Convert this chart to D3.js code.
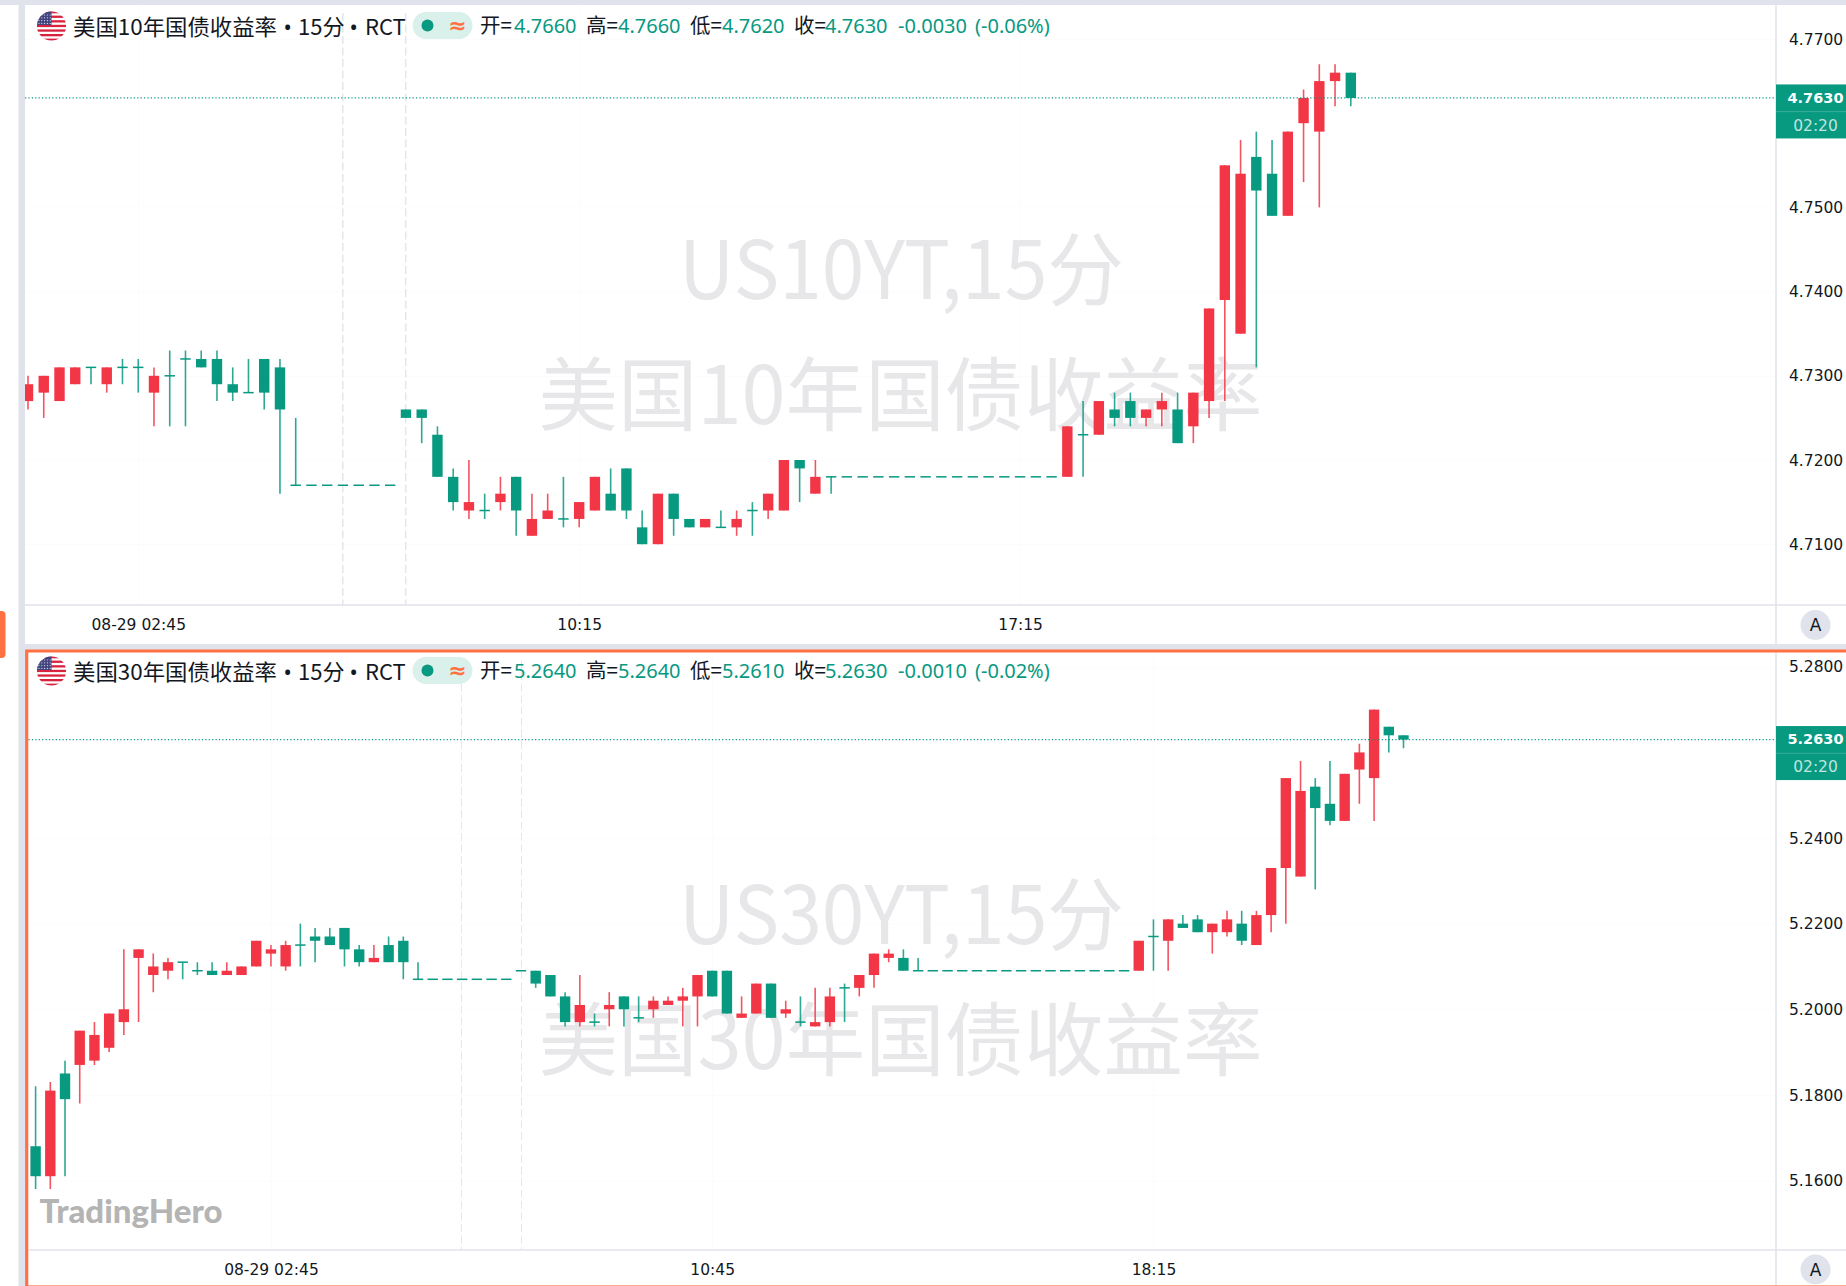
<!DOCTYPE html>
<html lang="zh">
<head>
<meta charset="UTF-8">
<title>US10YT / US30YT 15分</title>
<style>
  html, body { margin: 0; padding: 0; background: #fff; }
  svg { display: block; }
  .axis path { display: none; }
  .axis line { stroke: #fcfcfd; }
  .axis text { font: 15.5px "DejaVu Sans", sans-serif; fill: #131722; }
  .title { font: 22px "Noto Sans CJK SC", sans-serif; fill: #131722; }
  .dot { font: 22px "Noto Sans", sans-serif; fill: #131722; }
  .ohlc { font: 20px "Noto Sans", sans-serif; fill: #089981; }
  .ohlc-label { font: 20.5px "Noto Sans CJK SC", sans-serif; fill: #131722; }
  .wm { font: 80px "Noto Sans CJK SC", sans-serif; fill: #e7e7ea; text-anchor: middle; }
</style>
</head>
<body>
<div id="chart"></div>
<script src="https://d3js.org/d3.v7.min.js"></script>
<script>
// US 10Y, 15 min bars
const open10 = [4.727,4.728,4.727,4.729,4.731,4.729,4.731,4.731,4.728,4.730,4.732,4.732,4.732,4.729,4.728,4.732,4.731,4.717,4.717,4.717,4.717,4.717,4.717,4.717,4.726,4.726,4.723,4.718,4.714,4.714,4.715,4.718,4.711,4.713,4.713,4.713,4.714,4.716,4.719,4.712,4.710,4.716,4.713,4.712,4.712,4.712,4.714,4.714,4.714,4.720,4.716,4.718,4.718,4.718,4.718,4.718,4.718,4.718,4.718,4.718,4.718,4.718,4.718,4.718,4.718,4.718,4.718,4.723,4.723,4.726,4.727,4.725,4.726,4.726,4.724,4.727,4.739,4.735,4.756,4.754,4.749,4.760,4.759,4.765,4.766];
const high10 = [4.730,4.730,4.731,4.731,4.731,4.731,4.732,4.732,4.731,4.733,4.733,4.733,4.733,4.731,4.732,4.732,4.732,4.725,4.717,4.717,4.717,4.717,4.717,4.717,4.726,4.726,4.724,4.719,4.720,4.716,4.718,4.718,4.716,4.716,4.718,4.715,4.718,4.719,4.719,4.714,4.716,4.716,4.713,4.713,4.714,4.714,4.715,4.716,4.720,4.720,4.720,4.718,4.718,4.718,4.718,4.718,4.718,4.718,4.718,4.718,4.718,4.718,4.718,4.718,4.718,4.718,4.724,4.727,4.727,4.728,4.728,4.726,4.728,4.728,4.728,4.738,4.755,4.758,4.759,4.758,4.759,4.764,4.767,4.767,4.766];
const low10 = [4.726,4.725,4.727,4.729,4.729,4.728,4.729,4.728,4.724,4.724,4.724,4.731,4.727,4.727,4.728,4.726,4.716,4.717,4.717,4.717,4.717,4.717,4.717,4.717,4.725,4.722,4.718,4.714,4.713,4.713,4.714,4.711,4.711,4.713,4.712,4.712,4.714,4.714,4.713,4.710,4.710,4.711,4.712,4.712,4.712,4.711,4.711,4.713,4.714,4.715,4.716,4.716,4.718,4.718,4.718,4.718,4.718,4.718,4.718,4.718,4.718,4.718,4.718,4.718,4.718,4.718,4.718,4.718,4.723,4.724,4.724,4.724,4.724,4.722,4.722,4.725,4.727,4.735,4.731,4.749,4.749,4.753,4.750,4.762,4.762];
const close10 = [4.729,4.730,4.731,4.731,4.731,4.731,4.731,4.731,4.730,4.730,4.732,4.731,4.729,4.728,4.728,4.728,4.726,4.717,4.717,4.717,4.717,4.717,4.717,4.717,4.725,4.725,4.718,4.715,4.715,4.714,4.716,4.714,4.713,4.714,4.713,4.715,4.718,4.714,4.714,4.710,4.716,4.713,4.712,4.713,4.712,4.713,4.714,4.716,4.720,4.719,4.718,4.718,4.718,4.718,4.718,4.718,4.718,4.718,4.718,4.718,4.718,4.718,4.718,4.718,4.718,4.718,4.724,4.723,4.727,4.725,4.725,4.726,4.727,4.722,4.728,4.738,4.755,4.754,4.752,4.749,4.759,4.763,4.765,4.766,4.763];
const priceTicks10 = [4.77, 4.75, 4.74, 4.73, 4.72, 4.71];
const timeIdx10 = [7, 35, 63];
const ohlcText10 = ["4.7660", "4.7660", "4.7620", "4.7630", "-0.0030", "(-0.06%)"];

// US 30Y, 15 min bars
const open30 = [5.168,5.161,5.185,5.187,5.188,5.191,5.197,5.212,5.208,5.209,5.211,5.209,5.209,5.208,5.208,5.210,5.213,5.210,5.215,5.217,5.217,5.219,5.214,5.211,5.215,5.216,5.207,5.207,5.207,5.207,5.207,5.207,5.207,5.209,5.209,5.208,5.203,5.197,5.197,5.200,5.203,5.198,5.200,5.201,5.202,5.203,5.209,5.209,5.198,5.199,5.206,5.199,5.197,5.196,5.197,5.205,5.205,5.208,5.212,5.212,5.209,5.209,5.209,5.209,5.209,5.209,5.209,5.209,5.209,5.209,5.209,5.209,5.209,5.209,5.209,5.209,5.217,5.216,5.220,5.221,5.218,5.218,5.220,5.215,5.222,5.233,5.231,5.252,5.248,5.244,5.256,5.254,5.266,5.264];
const high30 = [5.182,5.183,5.188,5.195,5.197,5.199,5.214,5.214,5.213,5.212,5.211,5.211,5.211,5.211,5.210,5.216,5.215,5.216,5.220,5.219,5.219,5.219,5.215,5.215,5.217,5.217,5.211,5.207,5.207,5.207,5.207,5.207,5.207,5.209,5.209,5.208,5.204,5.208,5.199,5.204,5.203,5.203,5.203,5.203,5.205,5.208,5.209,5.209,5.203,5.206,5.206,5.202,5.203,5.205,5.205,5.206,5.208,5.213,5.214,5.214,5.212,5.209,5.209,5.209,5.209,5.209,5.209,5.209,5.209,5.209,5.209,5.209,5.209,5.209,5.209,5.216,5.221,5.221,5.222,5.222,5.220,5.223,5.223,5.223,5.233,5.254,5.258,5.254,5.258,5.255,5.262,5.270,5.266,5.264];
const low30 = [5.158,5.158,5.161,5.178,5.187,5.190,5.194,5.197,5.204,5.207,5.207,5.208,5.208,5.208,5.208,5.210,5.210,5.209,5.210,5.211,5.215,5.210,5.210,5.211,5.211,5.207,5.207,5.207,5.207,5.207,5.207,5.207,5.207,5.209,5.205,5.203,5.196,5.196,5.196,5.196,5.196,5.197,5.198,5.201,5.196,5.196,5.203,5.199,5.198,5.199,5.198,5.198,5.196,5.196,5.196,5.197,5.203,5.205,5.211,5.209,5.209,5.209,5.209,5.209,5.209,5.209,5.209,5.209,5.209,5.209,5.209,5.209,5.209,5.209,5.209,5.209,5.209,5.209,5.219,5.218,5.213,5.217,5.215,5.215,5.218,5.220,5.231,5.228,5.243,5.244,5.248,5.244,5.260,5.261];
const close30 = [5.161,5.181,5.179,5.195,5.194,5.199,5.200,5.214,5.210,5.211,5.211,5.209,5.208,5.209,5.210,5.216,5.214,5.215,5.215,5.216,5.215,5.214,5.211,5.212,5.211,5.211,5.207,5.207,5.207,5.207,5.207,5.207,5.207,5.209,5.206,5.203,5.197,5.201,5.197,5.201,5.200,5.198,5.202,5.202,5.203,5.208,5.203,5.199,5.199,5.206,5.198,5.200,5.197,5.197,5.203,5.205,5.208,5.213,5.213,5.209,5.209,5.209,5.209,5.209,5.209,5.209,5.209,5.209,5.209,5.209,5.209,5.209,5.209,5.209,5.209,5.216,5.217,5.221,5.219,5.218,5.220,5.221,5.216,5.222,5.233,5.254,5.251,5.247,5.244,5.255,5.260,5.270,5.264,5.263];
const priceTicks30 = [5.28, 5.24, 5.22, 5.20, 5.18, 5.16];
const timeIdx30 = [16, 46, 76];
const ohlcText30 = ["5.2640", "5.2640", "5.2610", "5.2630", "-0.0010", "(-0.02%)"];

const ohlcLabels = ["开", "高", "低", "收"];
const up = "#f23645", down = "#089981", orange = "#ff7043", line = "#e0e3eb";
const W = 1846, H = 1286, axisX = 1776;

const svg = d3.select("#chart").append("svg").attr("width", W).attr("height", H);
svg.append("rect").attr("width", W).attr("height", H).attr("fill", "#fff");

// page chrome
svg.append("rect").attr("width", W).attr("height", 5).attr("fill", line);
svg.append("rect").attr("x", 18.5).attr("width", 6.5).attr("height", H).attr("fill", line);
svg.append("rect").attr("x", 25).attr("y", 644).attr("width", W - 25).attr("height", 6).attr("fill", line);
svg.append("path").attr("d", "M0 611H1.5Q5.5 611 5.5 615V654Q5.5 658 1.5 658H0Z").attr("fill", orange);

const defs = svg.append("defs");
defs.append("clipPath").attr("id", "flagClip").append("circle").attr("r", 14.6);

function drawFlag(g) {
  const f = g.append("g").attr("clip-path", "url(#flagClip)");
  f.append("rect").attr("x", -15).attr("y", -15).attr("width", 30).attr("height", 30).attr("fill", "#fff");
  d3.range(7).forEach(i => {
    f.append("rect").attr("x", -15).attr("y", -15 + i * 4.6).attr("width", 30).attr("height", 2.3).attr("fill", "#d8233f");
  });
  f.append("rect").attr("x", -15).attr("y", -15).attr("width", 15).attr("height", 14).attr("fill", "#43457f");
  d3.range(4).forEach(r => d3.range(5).forEach(c => {
    f.append("circle").attr("cx", -12.5 + c * 2.8).attr("cy", -11 + r * 2.8).attr("r", 0.6).attr("fill", "#d9dbea");
  }));
}

function drawPanel(p) {
  const x = d3.scaleLinear().domain(p.xDomain).range(p.xRange);
  const y = d3.scaleLinear().domain(p.yDomain).range(p.yRange);
  const g = svg.append("g");

  // axes, with the faint grid from the tick lines
  g.append("g").attr("class", "axis")
    .attr("transform", `translate(${axisX},0)`)
    .call(d3.axisLeft(y).tickValues(p.priceTicks).tickSize(axisX - p.left).tickFormat(() => ""));
  const yAxis = g.append("g").attr("class", "axis")
    .attr("transform", `translate(${axisX},0)`)
    .call(d3.axisRight(y).tickValues(p.priceTicks).tickSize(0).tickPadding(13).tickFormat(d3.format(".4f")));
  yAxis.selectAll("text").attr("dy", "0.33em");

  g.append("g").attr("class", "axis")
    .attr("transform", `translate(0,${p.bottom})`)
    .call(d3.axisTop(x).tickValues(p.timeIdx).tickSize(p.bottom - p.top).tickFormat(() => ""));
  const xAxis = g.append("g").attr("class", "axis")
    .attr("transform", `translate(0,${p.bottom})`)
    .call(d3.axisBottom(x).tickValues(p.timeIdx).tickSize(0).tickPadding(14).tickFormat((d, i) => p.timeLabels[i]));
  xAxis.selectAll("text").attr("dy", "0.71em");

  // session break lines
  p.breaks.forEach(b => {
    g.append("line").attr("x1", b).attr("x2", b).attr("y1", p.top + 8).attr("y2", p.bottom)
      .attr("stroke", "#e4e6ec").attr("stroke-width", p.breakWidth).attr("stroke-dasharray", "8 3.5");
  });

  // watermark
  g.append("text").attr("class", "wm").attr("x", 901.5).attr("y", p.wmY1)
    .attr("textLength", 445).attr("lengthAdjust", "spacingAndGlyphs").text(p.wm1);
  g.append("text").attr("class", "wm").attr("x", 900.5).attr("y", p.wmY2)
    .attr("textLength", 724).attr("lengthAdjust", "spacingAndGlyphs").text(p.wm2);

  // axis borders
  g.append("line").attr("x1", p.left).attr("x2", W).attr("y1", p.bottom).attr("y2", p.bottom).attr("stroke", line).attr("stroke-width", 1.5);
  g.append("line").attr("x1", axisX).attr("x2", axisX).attr("y1", p.top).attr("y2", p.axisEnd).attr("stroke", line).attr("stroke-width", 1.5);

  // candles
  defs.append("clipPath").attr("id", p.id).append("rect")
    .attr("x", p.left).attr("y", p.top).attr("width", axisX - p.left).attr("height", p.bottom - p.top);
  const bars = d3.range(p.open.length).map(i => ({ i, o: p.open[i], h: p.high[i], l: p.low[i], c: p.close[i] }));
  const candles = g.append("g").attr("clip-path", `url(#${p.id})`);
  const colour = d => d.c > d.o ? up : down;
  candles.selectAll("line.wick").data(bars).join("line").attr("class", "wick")
    .attr("x1", d => x(d.i)).attr("x2", d => x(d.i))
    .attr("y1", d => y(d.h)).attr("y2", d => y(d.l))
    .attr("stroke", colour).attr("stroke-width", 1.6).attr("stroke-opacity", 0.85);
  candles.selectAll("rect.body").data(bars).join("rect").attr("class", "body")
    .attr("x", d => x(d.i) - 5.2).attr("width", 10.4)
    .attr("y", d => y(Math.max(d.o, d.c)) - (d.o === d.c ? 0.75 : 0))
    .attr("height", d => d.o === d.c ? 1.5 : y(Math.min(d.o, d.c)) - y(Math.max(d.o, d.c)))
    .attr("fill", colour);

  // last price line and tag
  const last = p.close[p.close.length - 1];
  g.append("line").attr("x1", p.left).attr("x2", axisX).attr("y1", y(last)).attr("y2", y(last))
    .attr("stroke", down).attr("stroke-width", 1.2).attr("stroke-dasharray", "1.2 2.2");
  g.append("rect").attr("x", axisX).attr("y", y(last) - 13.5).attr("width", W - axisX).attr("height", 54).attr("fill", down);
  g.append("line").attr("x1", axisX).attr("x2", W).attr("y1", y(last) + 13.7).attr("y2", y(last) + 13.7).attr("stroke", "#3aae9a").attr("stroke-width", 1);
  g.append("text").attr("x", 1815.5).attr("y", y(last)).attr("dy", "0.33em").attr("text-anchor", "middle")
    .style("font", "bold 14.5px 'DejaVu Sans', sans-serif").attr("fill", "#fff").text(last.toFixed(4));
  g.append("text").attr("x", 1815.5).attr("y", y(last) + 27.5).attr("dy", "0.33em").attr("text-anchor", "middle")
    .style("font", "15.5px 'DejaVu Sans', sans-serif").attr("fill", "#fff").attr("fill-opacity", 0.75).text(p.countdown);

  // auto scale button
  g.append("circle").attr("cx", 1815.5).attr("cy", p.btnY).attr("r", 15).attr("fill", line);
  g.append("text").attr("x", 1815.5).attr("y", p.btnY).attr("dy", "0.36em").attr("text-anchor", "middle")
    .style("font", "17px 'DejaVu Sans', sans-serif").attr("fill", "#131722").text("A");

  // legend row
  const hd = g.append("g").attr("transform", `translate(0,${p.headerY})`);
  drawFlag(hd.append("g").attr("transform", "translate(51.5,26)"));
  hd.append("text").attr("class", "title").attr("x", 73).attr("y", 34.5)
    .attr("textLength", 204).attr("lengthAdjust", "spacingAndGlyphs").text(p.title);
  hd.append("text").attr("class", "dot").attr("x", 283.5).attr("y", 34.5).text("•");
  hd.append("text").attr("class", "title").attr("x", 298).attr("y", 34.5).text("15分");
  hd.append("text").attr("class", "dot").attr("x", 349.5).attr("y", 34.5).text("•");
  hd.append("text").attr("class", "title").attr("x", 365).attr("y", 34.5).text("RCT");
  hd.append("rect").attr("x", 412.5).attr("y", 12).attr("width", 60).attr("height", 27).attr("rx", 13.5).attr("fill", "#daf0eb");
  hd.append("circle").attr("cx", 427.5).attr("cy", 25.5).attr("r", 6).attr("fill", down);
  hd.append("text").attr("x", 457.5).attr("y", 33).attr("text-anchor", "middle")
    .style("font", "bold 22px 'DejaVu Sans', sans-serif").attr("fill", orange).text("≈");
  [480, 586, 690, 794].forEach((lx, i) => {
    hd.append("text").attr("class", "ohlc-label").attr("x", lx).attr("y", 33).text(ohlcLabels[i] + "=");
  });
  [514, 618, 722, 825, 898, 975].forEach((vx, i) => {
    hd.append("text").attr("class", "ohlc").attr("x", vx).attr("y", 33).text(p.ohlc[i]);
  });
}

drawPanel({
  id: "clip10", left: 25, top: 5, bottom: 605, axisEnd: 644, headerY: 0,
  open: open10, high: high10, low: low10, close: close10,
  xDomain: [0, 84], xRange: [28, 1350.8],
  yDomain: [4.71, 4.77], yRange: [544.2, 39],
  priceTicks: priceTicks10, timeIdx: timeIdx10, timeLabels: ["08-29 02:45", "10:15", "17:15"],
  breaks: [342.8, 405.7], breakWidth: 1.5,
  wm1: "US10YT,15分", wm2: "美国10年国债收益率", wmY1: 299, wmY2: 423.5,
  title: "美国10年国债收益率", ohlc: ohlcText10, countdown: "02:20", btnY: 625
});

drawPanel({
  id: "clip30", left: 28.5, top: 652.5, bottom: 1250, axisEnd: 1286, headerY: 645,
  open: open30, high: high30, low: low30, close: close30,
  xDomain: [0, 93], xRange: [35.6, 1403.5],
  yDomain: [5.16, 5.28], yRange: [1180.5, 666.8],
  priceTicks: priceTicks30, timeIdx: timeIdx30, timeLabels: ["08-29 02:45", "10:45", "18:15"],
  breaks: [461.4, 521.5], breakWidth: 1,
  wm1: "US30YT,15分", wm2: "美国30年国债收益率", wmY1: 943.5, wmY2: 1068.5,
  title: "美国30年国债收益率", ohlc: ohlcText30, countdown: "02:20", btnY: 1269.5
});

// active pane border
svg.append("path").attr("d", `M${W} 651V651H26.7V${H}`).attr("fill", "none").attr("stroke", orange).attr("stroke-width", 3.2);
svg.append("line").attr("x1", 26).attr("x2", W).attr("y1", 1285.5).attr("y2", 1285.5).attr("stroke", orange).attr("stroke-opacity", 0.6);

// logo
svg.append("text").attr("x", 39.5).attr("y", 1223).attr("textLength", 183).attr("lengthAdjust", "spacingAndGlyphs")
  .style("font", "900 32px Lato, sans-serif").attr("fill", "#b4b4b4").text("TradingHero");
</script>
</body>
</html>
